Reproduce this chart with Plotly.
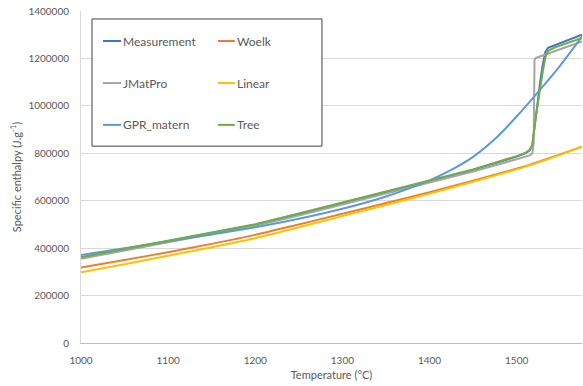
import plotly.graph_objects as go

# ---------------- data ----------------
series_names = ["Measurement", "Woelk", "JMatPro", "Linear", "GPR_matern", "Tree"]
series_colors = ["#4472C4", "#ED7D31", "#A5A5A5", "#FFC000", "#5B9BD5", "#70AD47"]

t_measurement = [1000, 1050, 1100, 1150, 1200, 1250, 1300, 1350, 1400, 1450, 1500, 1510, 1515,
                 1518, 1521, 1524, 1527, 1530, 1533, 1536, 1545, 1560, 1575]
h_measurement = [361000, 396000, 431000, 466000, 499000, 544000, 590000, 636000, 682000, 730000,
                 786000, 800000, 812000, 835000, 925000, 1020000, 1100000, 1175000, 1228000,
                 1245000, 1258000, 1279000, 1300000]

t_woelk = [1000, 1050, 1100, 1150, 1200, 1250, 1300, 1350, 1400, 1450, 1500, 1515, 1545, 1575]
h_woelk = [318000, 350000, 383000, 418000, 456000, 500000, 545000, 590000, 636000, 684000,
           735000, 751000, 789000, 828000]

t_jmatpro = [1000, 1050, 1100, 1150, 1200, 1250, 1300, 1350, 1400, 1450, 1500, 1510, 1515,
             1518, 1519.5, 1520.5, 1522, 1575]
h_jmatpro = [355000, 390000, 425000, 459000, 494000, 538000, 584000, 630000, 675000, 723000,
             775000, 786000, 791000, 800000, 840000, 1195000, 1202000, 1272000]

t_linear = [1000, 1050, 1100, 1150, 1200, 1250, 1300, 1350, 1400, 1450, 1500, 1515, 1545, 1575]
h_linear = [298000, 332000, 368000, 404000, 442000, 488000, 535000, 582000, 630000, 680000,
            732000, 749000, 787000, 828000]

t_gpr = [1000, 1050, 1100, 1150, 1200, 1250, 1300, 1350, 1400, 1425, 1450, 1475, 1500, 1525,
         1550, 1575]
h_gpr = [371000, 400000, 429000, 458000, 488000, 524000, 566000, 618000, 686000, 730000,
         785000, 860000, 955000, 1060000, 1170000, 1292000]

t_tree = [1000, 1050, 1100, 1150, 1200, 1250, 1300, 1350, 1400, 1450, 1500, 1510, 1515,
          1518, 1521, 1524, 1527, 1530, 1533, 1536, 1545, 1560, 1575]
h_tree = [362000, 397000, 432000, 467000, 501000, 546000, 592000, 638000, 684000, 732000,
          788000, 802000, 815000, 835000, 925000, 1010000, 1075000, 1145000, 1205000,
          1232000, 1248000, 1267000, 1286000]

x_ticks = [1000, 1100, 1200, 1300, 1400, 1500]
y_ticks = [0, 200000, 400000, 600000, 800000, 1000000, 1200000, 1400000]
x_title = "Temperature (°C)"
y_title = "Specific enthalpy (J.g<sup>-1</sup>)"

series_t = [t_measurement, t_woelk, t_jmatpro, t_linear, t_gpr, t_tree]
series_h = [h_measurement, h_woelk, h_jmatpro, h_linear, h_gpr, h_tree]
series_shape = ["linear", "spline", "linear", "spline", "spline", "linear"]

FONT = "Lato"
GREY_TXT = "#595959"

fig = go.Figure()
for name, color, t, h, shp in zip(series_names, series_colors, series_t, series_h, series_shape):
    fig.add_trace(go.Scatter(x=t, y=h, mode="lines", name=name,
                             line=dict(color=color, width=2, shape=shp, smoothing=0.8),
                             showlegend=False))

# ---------------- legend box (2 columns x 3 rows) ----------------
shapes = [dict(type="rect", xref="paper", yref="paper", x0=0.022, x1=0.481, y0=0.593, y1=0.976,
               line=dict(color="#404040", width=1), fillcolor="white", layer="above")]
annotations = []
row_y = [0.9096, 0.783, 0.657]
col_x = [(0.0439, 0.0798), (0.2735, 0.307)]
for i, (name, color) in enumerate(zip(series_names, series_colors)):
    r, c = divmod(i, 2)
    x0, x1 = col_x[c]
    shapes.append(dict(type="line", xref="paper", yref="paper", x0=x0, x1=x1,
                       y0=row_y[r], y1=row_y[r], line=dict(color=color, width=2), layer="above"))
    annotations.append(dict(x=x1, y=row_y[r], xref="paper", yref="paper", text=name,
                            showarrow=False, xanchor="left", yanchor="middle", xshift=0,
                            font=dict(family=FONT, size=12, color=GREY_TXT)))

fig.update_layout(
    width=583, height=386,
    margin=dict(l=81, r=1, t=11, b=43),
    paper_bgcolor="white", plot_bgcolor="white",
    font=dict(family=FONT, size=10, color=GREY_TXT),
    shapes=shapes, annotations=annotations,
    showlegend=False,
)
fig.update_xaxes(range=[1000, 1575], tickvals=x_ticks, ticktext=[str(v) for v in x_ticks],
                 showgrid=False, zeroline=False, showline=True, linecolor="#BFBFBF", linewidth=1,
                 ticks="", ticklabelstandoff=8,
                 tickfont=dict(family=FONT, size=10, color=GREY_TXT),
                 title=dict(text=x_title, font=dict(family=FONT, size=11, color=GREY_TXT), standoff=6))
fig.update_yaxes(range=[0, 1400000], tickvals=y_ticks, ticktext=[str(v) for v in y_ticks],
                 showgrid=True, gridcolor="#D9D9D9", gridwidth=1, zeroline=False,
                 showline=True, linecolor="#D9D9D9", linewidth=1,
                 ticks="", ticklabelstandoff=9,
                 tickfont=dict(family=FONT, size=10, color=GREY_TXT),
                 title=dict(text=y_title, font=dict(family=FONT, size=11, color=GREY_TXT), standoff=4))

fig.write_html("out.html")
